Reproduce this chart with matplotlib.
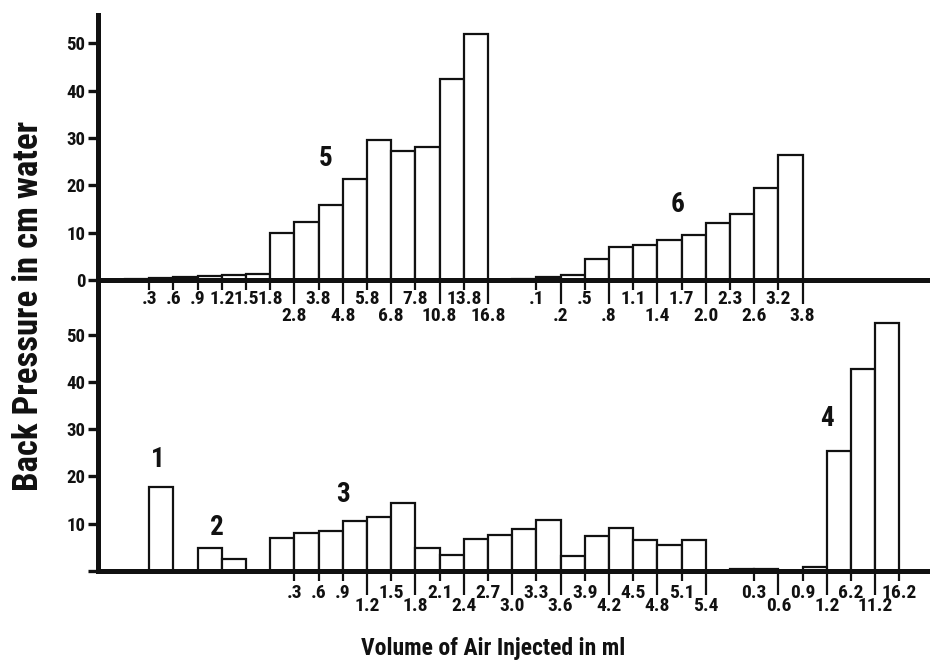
import matplotlib.pyplot as plt
from matplotlib import font_manager

# bar heights (cm water), bars are one bin wide, starting at the given bin index
pos5 = 0
h5 = [0.3, 0.5, 0.6, 0.8, 1.0, 1.2, 10, 12.3, 15.9, 21.3, 29.6, 27.3, 28.2, 42.6, 52]
pos6 = 16
h6 = [0.3, 0.6, 1.0, 4.5, 7, 7.5, 8.5, 9.5, 12, 14, 19.5, 26.5]

pos1 = 1
h1 = [17.8]
pos2 = 3
h2 = [4.8, 2.5]
pos3 = 6
h3 = [6.9, 8.0, 8.5, 10.6, 11.5, 14.3, 4.8, 3.4, 6.7, 7.6, 8.9, 10.8,
      3.2, 7.5, 9.0, 6.6, 5.5, 6.6]
pos4 = 25
h4 = [0.4, 0.4, 0, 0.8, 25.4, 42.8, 52.4]

# volume labels at bin edges: (edge index, label)
top_upper = [(1, '.3'), (2, '.6'), (3, '.9'), (4, '1.2'), (5, '1.5'), (6, '1.8'),
             (8, '3.8'), (10, '5.8'), (12, '7.8'), (14, '13.8'),
             (17, '.1'), (19, '.5'), (21, '1.1'), (23, '1.7'), (25, '2.3'), (27, '3.2')]
top_lower = [(7, '2.8'), (9, '4.8'), (11, '6.8'), (13, '10.8'), (15, '16.8'),
             (18, '.2'), (20, '.8'), (22, '1.4'), (24, '2.0'), (26, '2.6'), (28, '3.8')]
bot_upper = [(7, '.3'), (8, '.6'), (9, '.9'), (11, '1.5'), (13, '2.1'), (15, '2.7'),
             (17, '3.3'), (19, '3.9'), (21, '4.5'), (23, '5.1'),
             (26, '0.3'), (28, '0.9'), (30, '6.2'), (32, '16.2')]
bot_lower = [(10, '1.2'), (12, '1.8'), (14, '2.4'), (16, '3.0'), (18, '3.6'),
             (20, '4.2'), (22, '4.8'), (24, '5.4'),
             (27, '0.6'), (29, '1.2'), (31, '11.2')]

yticks = [0, 10, 20, 30, 40, 50]

# pick a bold condensed face (the original uses Helvetica Condensed Bold)
bold_fams = {f.name for f in font_manager.fontManager.ttflist if f.weight in (600, 700, 'bold')}
font = 'DejaVu Sans'
for cand in ['Roboto Condensed', 'Archivo Narrow', 'Liberation Sans Narrow',
             'Sofia Sans Condensed', 'Saira SemiCondensed']:
    if cand in bold_fams:
        font = cand
        break
plt.rcParams['font.family'] = [font, 'DejaVu Sans']
plt.rcParams['font.weight'] = 'bold'
ink = '#111111'

W, H = 930, 667
fig = plt.figure(figsize=(W / 100, H / 100), dpi=100)


def axes_px(left, top, right, bottom):
    return fig.add_axes([left / W, 1 - bottom / H, (right - left) / W, (bottom - top) / H])


x0, dx = 125, 24.2      # pixel of bin 0 and bin width
ppu = 4.73              # pixels per cm water
xlim = ((98 - x0) / dx, (930 - x0) / dx)

ax_top = axes_px(98, 15, 930, 305)
ax_bot = axes_px(98, 305, 930, 571)
ax_top.set_ylim((280 - 305) / ppu, (280 - 15) / ppu)
ax_bot.set_ylim(0, (571 - 305) / ppu)


def draw_bars(ax, start, heights):
    xs = [start + i for i in range(len(heights))]
    ax.bar(xs, heights, width=1, align='edge', color='white',
           edgecolor=ink, linewidth=1.6, zorder=2)


draw_bars(ax_top, pos5, h5)
draw_bars(ax_top, pos6, h6)
draw_bars(ax_bot, pos1, h1)
draw_bars(ax_bot, pos2, h2)
draw_bars(ax_bot, pos3, h3)
draw_bars(ax_bot, pos4, h4)

for ax, upper, lower, pad_up, pad_low in [(ax_top, top_upper, top_lower, 0.2, 1.6),
                                         (ax_bot, bot_upper, bot_lower, 2.6, 1.2)]:
    ax.set_xlim(*xlim)
    for s in ['top', 'right']:
        ax.spines[s].set_visible(False)
    for s in ['left', 'bottom']:
        ax.spines[s].set_linewidth(3.6)
        ax.spines[s].set_color(ink)
        ax.spines[s].set_zorder(3)
    ax.set_facecolor('none')
    ax.set_xticks([p for p, _ in lower], [t for _, t in lower])
    ax.set_xticks([p for p, _ in upper], [t for _, t in upper], minor=True)
    ax.tick_params(axis='x', which='major', length=17.5, width=1.6, pad=pad_low,
                   labelsize=14, colors=ink)
    ax.tick_params(axis='x', which='minor', length=7, width=1.6, pad=pad_up,
                   labelsize=14, colors=ink)
    ax.tick_params(axis='y', length=7, width=2.4, pad=2, labelsize=13.5, colors=ink)

ax_top.spines['bottom'].set_position(('data', 0))
ax_top.set_yticks(yticks, [str(v) for v in yticks])
ax_bot.set_yticks(yticks, [''] + [str(v) for v in yticks[1:]])

# group numbers
for ax, x, y, t in [(ax_top, 8.3, 25.6, '5'), (ax_top, 22.85, 15.9, '6'),
                    (ax_bot, 1.36, 23.5, '1'), (ax_bot, 3.8, 9.3, '2'),
                    (ax_bot, 9.0, 16.1, '3'), (ax_bot, 29.0, 32.3, '4')]:
    ax.text(x, y, t, ha='center', va='center', fontsize=19.5, color=ink)

fig.text(29 / W, 1 - 306 / H, 'Back Pressure in cm water', rotation=90,
         ha='center', va='center', fontsize=25, color=ink)
fig.text(493 / W, 1 - 648 / H, 'Volume of Air Injected in ml',
         ha='center', va='center', fontsize=17, color=ink)

fig.savefig('out.png', dpi=100)
